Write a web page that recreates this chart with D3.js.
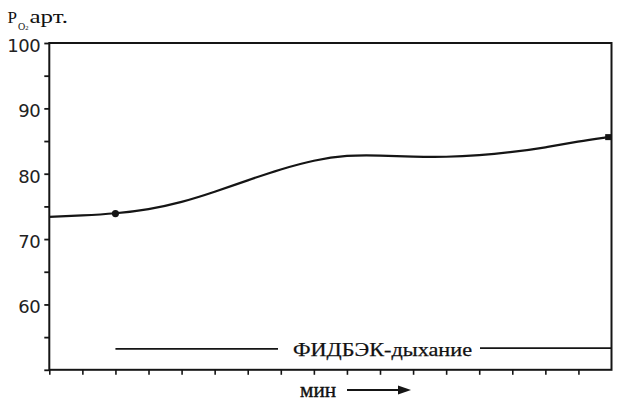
<!DOCTYPE html>
<html><head><meta charset="utf-8">
<script src="https://cdn.jsdelivr.net/npm/d3@7/dist/d3.min.js"></script>
<style>
html,body{margin:0;padding:0;background:#fff;}
svg{display:block;}
</style></head>
<body>
<script>
// ---- data ----
const minutes = [0,1,2,3,4,5,6,7,8,9,10,11,12,13,14,15,16,16.9];
const po2     = [73.4,73.6,73.9,74.5,75.6,77.2,79.0,80.7,82.1,82.85,82.8,82.6,82.55,82.8,83.3,84.0,84.95,85.6];
const markedPoints = [2, 16.9];          // minutes with markers
const yTickMajor = [60,70,80,90,100];
const yTickMinor = [50,55,65,75,85,95];
const xTicks = [0,1,2,3,4,5,6,7,8,9,10,11,12,13,14,15,16];
const feedbackStart = 2, feedbackEnd = 17, feedbackLevel = 53.2;
const feedbackLabel = "ФИДБЭК-дыхание";
const xLabel = "мин";

const W = 620, H = 401;
const ink = "#151515";
const svg = d3.select("body").append("svg").attr("width", W).attr("height", H);

const x = d3.scaleLinear().domain([0,17]).range([49.3, 611.5]);
const y = d3.scaleLinear().domain([50,100]).range([369.8, 43]);

// frame
svg.append("rect")
  .attr("x", x(0)).attr("y", y(100))
  .attr("width", x(17)-x(0)).attr("height", y(50)-y(100))
  .attr("fill","none").attr("stroke", ink).attr("stroke-width", 2);

// y axis
const yAxis = d3.axisLeft(y).tickValues(yTickMajor).tickSize(5).tickPadding(6).tickFormat(d3.format("d"));
const gy = svg.append("g").attr("transform", `translate(${x(0)},0)`).call(yAxis);
gy.select(".domain").remove();
gy.selectAll(".tick line").attr("stroke", ink).attr("stroke-width", 1.8);
gy.selectAll(".tick text").attr("fill","#222").attr("font-family","DejaVu Sans, sans-serif")
  .attr("font-size", 18).attr("dy","0.47em").attr("x",-9).style("letter-spacing","-0.4px");
const gyMinor = svg.append("g").attr("transform", `translate(${x(0)},0)`)
  .call(d3.axisLeft(y).tickValues(yTickMinor).tickSize(5).tickFormat(""));
gyMinor.select(".domain").remove();
gyMinor.selectAll(".tick line").attr("stroke", ink).attr("stroke-width", 1.8);

// x axis
const gx = svg.append("g").attr("transform", `translate(0,${y(50)})`)
  .call(d3.axisBottom(x).tickValues(xTicks).tickSize(5).tickFormat(""));
gx.select(".domain").remove();
gx.selectAll(".tick line").attr("stroke", ink).attr("stroke-width", 1.6);

// curve
const pts = minutes.map((m,i)=>[m, po2[i]]);
const line = d3.line().x(d=>x(d[0])).y(d=>y(d[1])).curve(d3.curveBasis);
svg.append("path").datum(pts).attr("d", line)
  .attr("fill","none").attr("stroke", ink).attr("stroke-width", 2.2);

// markers
const val = m => po2[minutes.indexOf(m)];
svg.append("circle").attr("cx", x(markedPoints[0])).attr("cy", y(val(markedPoints[0])))
  .attr("r", 3.6).attr("fill", ink);
svg.append("rect").attr("x", x(markedPoints[1])-3).attr("y", y(val(markedPoints[1]))-3)
  .attr("width", 6).attr("height", 6).attr("fill", ink);

// feedback annotation
svg.append("text")
  .attr("x", 293).attr("y", y(feedbackLevel)+7)
  .attr("font-family","Liberation Serif, Times New Roman, serif").attr("font-size", 19)
  .attr("fill","#111").attr("stroke","#111").attr("stroke-width",0.25)
  .attr("textLength", 179).attr("lengthAdjust","spacingAndGlyphs")
  .text(feedbackLabel);
svg.append("line").attr("x1", x(feedbackStart)).attr("x2", 278)
  .attr("y1", y(feedbackLevel)).attr("y2", y(feedbackLevel))
  .attr("stroke", ink).attr("stroke-width", 1.8);
svg.append("line").attr("x1", 480).attr("x2", x(feedbackEnd))
  .attr("y1", y(feedbackLevel)-0.8).attr("y2", y(feedbackLevel)-0.8)
  .attr("stroke", ink).attr("stroke-width", 1.8);

// x label with arrow
svg.append("text").attr("x", 300).attr("y", 397)
  .attr("font-family","Liberation Serif, Times New Roman, serif").attr("font-size", 21)
  .attr("fill","#111").attr("stroke","#111").attr("stroke-width",0.4)
  .attr("textLength", 36).attr("lengthAdjust","spacingAndGlyphs").text(xLabel);
svg.append("line").attr("x1", 347).attr("x2", 400).attr("y1", 390).attr("y2", 390)
  .attr("stroke", ink).attr("stroke-width", 1.8);
svg.append("path").attr("d","M398,385.5 L411,390 L398,394.5 Z").attr("fill", ink);

// y title: P_O2 арт.
const tFont = "Liberation Serif, Times New Roman, serif";
svg.append("text").attr("x", 7.5).attr("y", 22.5).attr("font-family", tFont)
  .attr("font-size", 17).attr("fill","#111").text("P");
const sub = svg.append("text").attr("x", 18).attr("y", 30).attr("font-family", tFont).attr("fill","#111");
sub.append("tspan").attr("font-size", 10).text("O");
sub.append("tspan").attr("font-size", 6.5).text("2");
svg.append("text").attr("x", 29.5).attr("y", 22.5).attr("font-family", tFont)
  .attr("font-size", 19).attr("fill","#111")
  .attr("textLength", 38.5).attr("lengthAdjust","spacingAndGlyphs").text("арт.");
</script>
</body></html>
